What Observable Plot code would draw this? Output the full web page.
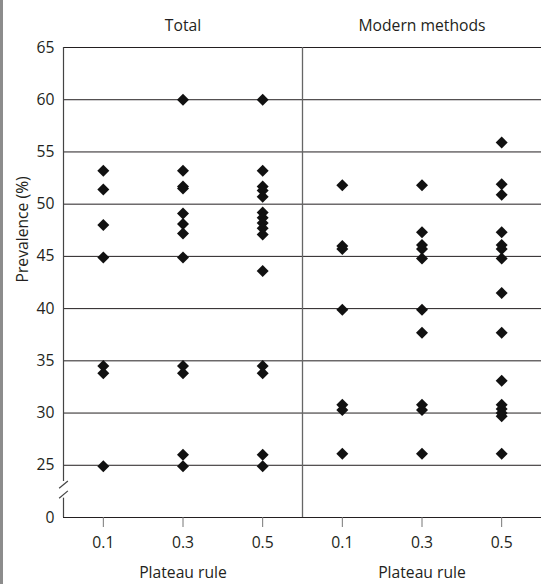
<!DOCTYPE html>
<html>
<head>
<meta charset="utf-8">
<script src="https://cdn.jsdelivr.net/npm/d3@7"></script>
<script src="https://cdn.jsdelivr.net/npm/@observablehq/plot@0.6"></script>
<style>
html, body { margin: 0; padding: 0; background: #fff; }
#wrap { position: relative; width: 541px; height: 584px; overflow: hidden; }
#border { position: absolute; left: 0; top: 0; width: 3px; height: 584px; background: #8c8c8c; }
svg { display: block; }
</style>
</head>
<body>
<div id="wrap"><div id="chart"></div><div id="border"></div></div>
<script>
// Panels and x categories
const panels = ["Total", "Modern methods"];
const plateauRules = [0.1, 0.3, 0.5];

// Prevalence (%) values
const total_01 = [53.2, 51.4, 48.0, 44.9, 34.5, 33.8, 24.9];
const total_03 = [60.0, 53.2, 51.7, 51.5, 49.1, 48.1, 47.2, 44.9, 34.5, 33.8, 26.0, 24.9];
const total_05 = [60.0, 53.2, 51.7, 51.3, 50.7, 49.2, 48.7, 48.2, 47.7, 47.1, 43.6, 34.5, 33.8, 26.0, 24.9];

const modern_01 = [51.8, 46.0, 45.7, 39.9, 30.8, 30.3, 26.1];
const modern_03 = [51.8, 47.3, 46.1, 45.7, 44.8, 39.9, 37.7, 30.8, 30.3, 26.1];
const modern_05 = [55.9, 51.9, 50.9, 47.3, 46.1, 45.7, 44.8, 41.5, 37.7, 33.1, 30.8, 30.4, 30.0, 29.7, 26.1];

// Y axis (broken: the "0" label sits one step below 25)
const yTickValues = [20, 25, 30, 35, 40, 45, 50, 55, 60, 65];
const yTickLabels = ["0", "25", "30", "35", "40", "45", "50", "55", "60", "65"];
const gridValues = [25, 30, 35, 40, 45, 50, 55, 60, 65];

const xLabel = "Plateau rule";
const yLabel = "Prevalence (%)";

// Build long table
const series = [
  ["Total", 0.1, total_01], ["Total", 0.3, total_03], ["Total", 0.5, total_05],
  ["Modern methods", 0.1, modern_01], ["Modern methods", 0.3, modern_03], ["Modern methods", 0.5, modern_05]
];
const data = series.flatMap(([panel, rule, vals]) => vals.map(v => ({panel, rule, value: v})));

const chart = Plot.plot({
  width: 541,
  height: 584,
  marginLeft: 62,
  marginRight: 0,
  marginTop: 47,
  marginBottom: 67,
  style: {fontFamily: "'Open Sans', sans-serif", fontSize: "15.7px", color: "#231f20", background: "transparent"},
  fx: {domain: panels, padding: 0, axis: null},
  x: {domain: [0, 0.6]},
  y: {domain: [20, 65]},
  marks: [
    Plot.ruleY(gridValues, {stroke: "#231f20", strokeWidth: 1}),
    Plot.ruleY([20], {stroke: "#231f20", strokeWidth: 1}),
    // panel divider
    Plot.ruleX([{panel: "Modern methods"}], {fx: "panel", x: 0, y1: 20, y2: 65, stroke: "#666", strokeWidth: 1.3}),
    // left axis line with break
    Plot.ruleX([{panel: "Total", a: 23.45, b: 65}, {panel: "Total", a: 20, b: 21.85}],
      {fx: "panel", x: 0, y1: "a", y2: "b", stroke: "#444", strokeWidth: 1.2}),
    Plot.link([{panel: "Total", a: 22.8, b: 23.5}, {panel: "Total", a: 21.85, b: 22.55}],
      {fx: "panel", x1: -0.011, x2: 0.011, y1: "a", y2: "b", stroke: "#444", strokeWidth: 1.2}),
    Plot.axisX({ticks: plateauRules, tickFormat: d => d.toFixed(1), tickSize: 10, tickPadding: 9, stroke: "#777", label: null}),
    Plot.axisY({ticks: yTickValues, tickFormat: (d, i) => yTickLabels[yTickValues.indexOf(d)], tickSize: 0, tickPadding: 9, label: null}),
    Plot.dot(data, {fx: "panel", x: "rule", y: "value", symbol: "diamond2", r: 5.4, fill: "#111"}),
    Plot.text(panels, {fx: d => d, text: d => d, frameAnchor: "top", dy: -22, lineAnchor: "middle"}),
    Plot.text(panels, {fx: d => d, text: () => xLabel, frameAnchor: "bottom", dy: 55.5, lineAnchor: "middle"}),
    Plot.text([yLabel], {fx: () => "Total", text: d => d, frameAnchor: "left", dx: -41, rotate: -90, lineAnchor: "middle"})
  ]
});
document.getElementById("chart").appendChild(chart);
</script>
</body>
</html>
